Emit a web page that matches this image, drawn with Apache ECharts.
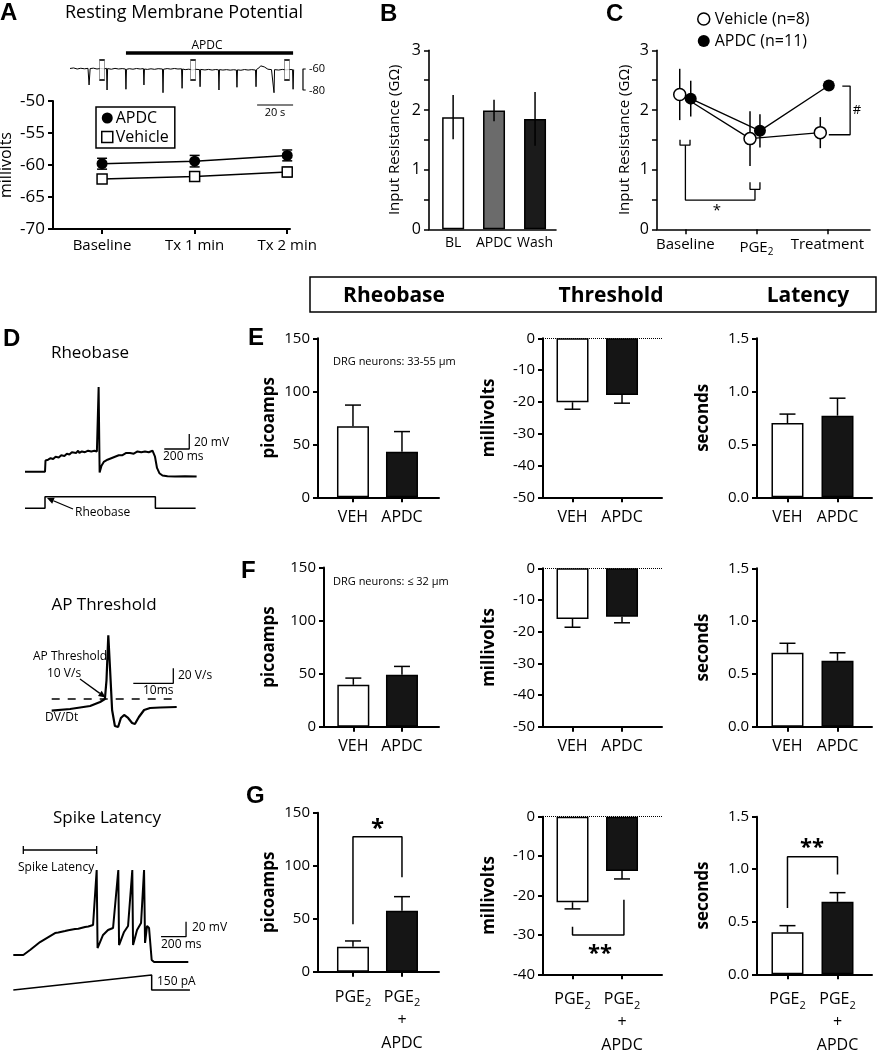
<!DOCTYPE html>
<html><head><meta charset="utf-8">
<script src="https://cdn.jsdelivr.net/npm/echarts@6/dist/echarts.min.js"></script>
<style>html,body{margin:0;padding:0;background:#fff}#c{width:882px;height:1050px}</style>
</head><body><div id="c"></div>
<script>
// ================= DATA =================
// Panel A – resting membrane potential (mV)
const rmpCats = ['Baseline', 'Tx 1 min', 'Tx 2 min'];
const rmpAPDC = [-59.8, -59.4, -58.5];
const rmpAPDCErr = [0.85, 0.9, 0.85];
const rmpVeh = [-62.2, -61.8, -61.1];
const rmpVehErr = [0.6, 0.65, 0.75];
// Panel A – example recording [time s, mV]
const traceA = [[0,-59.5],[2,-59],[4,-60],[6,-59.3],[8,-59.8],[10,-59.4],[10.6,-75.2],[11.2,-59.6],[13,-59.2],[15,-60],[17,-59.5],[19,-59.9],[20.3,-59.4],[20.6,-80],[20.9,-59.6],[23,-60.2],[25,-59.4],[27,-60],[29,-59.6],[30.8,-60],[31.1,-79.3],[31.4,-60.3],[33,-59.7],[35,-60.2],[37,-59.5],[39,-60],[40.8,-59.6],[41.1,-75.2],[41.4,-60],[43,-60.4],[45,-59.8],[47,-60.3],[49,-59.7],[51.4,-60],[51.7,-82.6],[52,-60.2],[54,-59.6],[56,-60.1],[58,-59.5],[60,-60],[62,-59.8],[62.3,-78.4],[62.6,-60],[64,-60.6],[66,-60.2],[68,-60.8],[70,-60.3],[72,-60.6],[72.3,-76.9],[72.6,-60.4],[75,-60.9],[77,-60.4],[79,-61],[81,-60.5],[82.5,-60.8],[82.8,-80],[83.1,-60.6],[85,-61],[87,-60.6],[89,-61.1],[91,-60.7],[92.5,-61],[92.8,-77.4],[93.1,-60.8],[95,-61.2],[97,-60.5],[99,-61],[101,-60.6],[103.1,-61],[103.4,-76.9],[103.7,-60.4],[105,-59],[106,-57],[107,-56.5],[108,-58],[110,-60.2],[112,-60.6],[113.1,-60.4],[113.4,-82.6],[113.7,-60.6],[116,-61],[118,-60.4],[120,-60.8],[122,-60.5],[123.7,-60.6],[124,-79.3],[124.3,-60.5]];
const traceASampleTimes = [17.8, 68.4, 120.6];
const traceAPDCOn = [31.1, 124];

// Panel B – input resistance (GOhm)
const rinCats = ['BL', 'APDC', 'Wash'];
const rinVals = [1.88, 1.99, 1.85];
const rinErr = [0.37, 0.18, 0.45];

// Panel C – input resistance (GOhm)
const cCats = ['Baseline', 'PGE2', 'Treatment'];
const cVeh = [2.26, 1.52, 1.62];
const cVehErr = [0.43, 0.46, 0.26];
const cAPDC = [2.19, 1.65, 2.41];
const cAPDCErr = [0.30, 0.28, 0.04];

// Panel D – example traces
const rheoTrace = [[0,-60],[160,-60],[164,-45],[185,-44],[205,-42],[225,-43],[245,-40],[270,-41],[290,-38],[315,-39],[335,-36],[355,-37],[375,-34],[390,-36],[410,-35],[425,-32],[435,-35],[455,-33],[480,-34],[505,-32],[530,-33],[555,-32],[575,-33],[585,-32],[589,53],[597,-61],[612,-52],[630,-47],[660,-44],[690,-42],[720,-40],[750,-38],[780,-38],[810,-35],[840,-35],[870,-36],[900,-33],[930,-34],[960,-33],[990,-34],[1020,-32],[1032,-34],[1040,-40],[1056,-55],[1075,-62],[1100,-65],[1140,-66],[1200,-66.5],[1280,-66],[1373,-66.5]];
const rheoStim = [[0,0],[160,0],[160,1],[1043,1],[1043,0],[1365,0]];
const apTrace = [[0,-5.6],[4.6,-3.3],[9.6,0.7],[12.1,6],[13.3,10],[13.7,35],[14.15,95],[14.6,48.7],[15.1,-4.7],[15.8,-26],[16.6,-27.3],[17.3,-15.3],[18.1,-11.3],[19.1,-15.3],[20.1,-22],[20.8,-23.3],[21.8,-14],[23.1,-4.7],[24.6,-2],[27.1,-1.3],[31.25,-0.7]];
const apThreshold = 10;
const latTrace = [[0,-60],[80,-60],[134,-53.3],[214,-42.7],[294,-34.7],[334,-30.7],[360,-30],[414,-28],[440,-27],[494,-25.3],[520,-25],[574,-22.7],[600,-22],[638,-20],[667,53.3],[674,-50.7],[718,-33.3],[758,-26.7],[798,-24],[840,53.3],[846,-46.7],[886,-29.3],[918,-21.3],[952,53.3],[958,-46.7],[990,-26.7],[1022,-17.3],[1046,53.3],[1054,-44],[1070,-21.3],[1086,-24],[1107,-66.7],[1126,-69.3],[1400,-69.3]];
const latStim = [[0,0],[1107,150],[1107,0],[1413,0]];
const spikeLatencyMs = [80, 667];

// Panels E, F, G – bar charts
const groupCats = ['VEH', 'APDC'];
const pgeCats = ['PGE2', 'PGE2 + APDC'];
const eRheo = [67, 43],      eRheoErr = [20, 19];
const eThr = [-20.1, -17.8], eThrErr = [2.2, 2.6];
const eLat = [0.70, 0.77],   eLatErr = [0.085, 0.165];
const fRheo = [39.5, 49],    fRheoErr = [6.3, 7.8];
const fThr = [-16.0, -15.3], fThrErr = [2.6, 1.9];
const fLat = [0.70, 0.625],  fLatErr = [0.09, 0.075];
const gRheo = [23.6, 57.5],  gRheoErr = [5.4, 13.3];
const gThr = [-21.7, -13.8], gThrErr = [1.7, 2.0];
const gLat = [0.40, 0.69],   gLatErr = [0.063, 0.087];

// ================= BUILD =================
const FONT = "'Open Sans', sans-serif";
const grids = [], xAxes = [], yAxes = [], series = [], graphics = [];
function addGrid(g, xa, ya) {
  grids.push(Object.assign({outerBoundsMode: 'none'}, g));
  const i = grids.length - 1;
  xAxes.push(Object.assign({gridIndex: i}, xa));
  yAxes.push(Object.assign({gridIndex: i}, ya));
  return i;
}
const hidden = (min, max) => ({type: 'value', show: false, min, max, splitLine: {show: false}});
function lineS(gi, data, lw, extra) {
  return Object.assign({type: 'line', xAxisIndex: gi, yAxisIndex: gi, data, symbol: 'none', silent: true,
    clip: false, lineStyle: {color: '#000', width: lw}, animation: false}, extra || {});
}
function errS(gi, pts, capW, lw) {
  return {type: 'custom', xAxisIndex: gi, yAxisIndex: gi, silent: true, clip: false, z: 5,
    encode: {x: 0, y: 1}, data: pts,
    renderItem(params, api) {
      const x = api.value(0), y = api.value(1), up = api.value(2), dn = api.value(3);
      const p0 = api.coord([x, y + up]), p1 = api.coord([x, y - dn]);
      const st = {stroke: '#000', lineWidth: lw};
      const ch = [{type: 'line', shape: {x1: p0[0], y1: p0[1], x2: p1[0], y2: p1[1]}, style: st}];
      if (capW) {
        if (up > 0) ch.push({type: 'line', shape: {x1: p0[0] - capW / 2, y1: p0[1], x2: p0[0] + capW / 2, y2: p0[1]}, style: st});
        if (dn > 0) ch.push({type: 'line', shape: {x1: p1[0] - capW / 2, y1: p1[1], x2: p1[0] + capW / 2, y2: p1[1]}, style: st});
      }
      return {type: 'group', children: ch};
    }};
}
function txt(x, y, s, o) {
  o = o || {};
  graphics.push({type: 'text', x, y, silent: true, style: {text: s, fill: '#000',
    fontFamily: o.ff || FONT, fontSize: o.fs || 12, fontWeight: o.fw || 'normal',
    align: o.al || 'left', verticalAlign: o.va || 'middle'}});
}
function arrow(x1, y1, x2, y2) {
  const a = Math.atan2(y2 - y1, x2 - x1), L = 7, W = 3.2;
  const bx = x2 - L * Math.cos(a), by = y2 - L * Math.sin(a);
  const px = -Math.sin(a) * W, py = Math.cos(a) * W;
  graphics.push({type: 'line', silent: true, shape: {x1, y1, x2: bx, y2: by}, style: {stroke: '#000', lineWidth: 1.3}});
  graphics.push({type: 'polygon', silent: true, shape: {points: [[x2, y2], [bx + px, by + py], [bx - px, by - py]]}, style: {fill: '#000'}});
}
const axLine = (w) => ({show: true, onZero: false, lineStyle: {color: '#000', width: w}});
const lbl = (fs, extra) => Object.assign({color: '#000', fontSize: fs, fontFamily: FONT}, extra || {});
const pgeRich = {
  a: {fontSize: 16, fontFamily: FONT, color: '#000', lineHeight: 23},
  s: {fontSize: 11, fontFamily: FONT, color: '#000', lineHeight: 14, verticalAlign: 'bottom'}
};
function fmtCat(name) {
  if (name === 'PGE2') return '{a|PGE}{s|2}';
  if (name === 'PGE2 + APDC') return '{a|PGE}{s|2}\n{a|+}\n{a|APDC}';
  return name;
}

// ---- Panel A trace ----
{
  const gi = addGrid({left: 70, top: 48, width: 240, height: 63}, hidden(0, 133.4), hidden(-100, -40));
  series.push(lineS(gi, traceA, 1));
  series.push(lineS(gi, traceAPDCOn.map(t => [t, -44.8]), 3.5));
  series.push(lineS(gi, [[104, -94.3], [124, -94.3]], 1.2));
  series.push(lineS(gi, [[131, -60], [129.5, -60], [129.5, -80], [131, -80]], 1.2));
  series.push({type: 'scatter', xAxisIndex: gi, yAxisIndex: gi, silent: true, symbol: 'rect', symbolSize: [5, 20],
    itemStyle: {color: '#fff', borderColor: '#000', borderWidth: 1}, data: traceASampleTimes.map(t => [t, -61]), z: 4});
  txt(207, 46, 'APDC', {fs: 12, al: 'center'});
  txt(275, 113, '20 s', {fs: 11, al: 'center'});
  txt(309, 69, '-60', {fs: 11});
  txt(309, 91, '-80', {fs: 11});
}
// ---- Panel A plot ----
{
  const pos = [0, 1, 2];
  const gi = addGrid({left: 53, top: 101, width: 237, height: 128},
    {type: 'value', min: -0.53, max: 2.03, axisLine: axLine(2), splitLine: {show: false},
     axisTick: {show: true, customValues: pos, length: 5, lineStyle: {width: 2, color: '#000'}},
     axisLabel: lbl(15, {customValues: pos, margin: 9, formatter: v => rmpCats[Math.round(v)]})},
    {type: 'value', min: -70, max: -50, interval: 5, axisLine: axLine(2), splitLine: {show: false},
     axisTick: {show: true, length: 5, lineStyle: {width: 2, color: '#000'}},
     axisLabel: lbl(17, {margin: 8}),
     name: 'millivolts', nameLocation: 'middle', nameGap: 39, nameTextStyle: lbl(16)});
  series.push({type: 'line', name: 'APDC', xAxisIndex: gi, yAxisIndex: gi, data: rmpAPDC.map((v, i) => [pos[i], v]),
    symbol: 'circle', symbolSize: 11, lineStyle: {color: '#000', width: 1.5}, itemStyle: {color: '#000'}, z: 6});
  series.push({type: 'line', name: 'Vehicle', xAxisIndex: gi, yAxisIndex: gi, data: rmpVeh.map((v, i) => [pos[i], v]),
    symbol: 'rect', symbolSize: 10, lineStyle: {color: '#000', width: 1.5}, itemStyle: {color: '#fff', borderColor: '#000', borderWidth: 1.5}, z: 6});
  series.push(errS(gi, rmpAPDC.map((v, i) => [pos[i], v, rmpAPDCErr[i], rmpAPDCErr[i]]), 10, 1.5));
  series.push(errS(gi, rmpVeh.map((v, i) => [pos[i], v, rmpVehErr[i], rmpVehErr[i]]), 10, 1.5));
}
// ---- Panel B ----
{
  const pos = [0.19, 0.512, 0.835];
  const cols = ['#fff', '#6b6b6b', '#1b1b1b'];
  const gi = addGrid({left: 429, top: 50.3, width: 127, height: 179},
    {type: 'value', min: 0, max: 1, axisLine: axLine(1.6), splitLine: {show: false},
     axisTick: {show: false}, axisLabel: lbl(14, {customValues: pos, margin: 7, formatter: v => rinCats[pos.indexOf(v)]})},
    {type: 'value', min: 0, max: 3, interval: 0.5, axisLine: axLine(1.6), splitLine: {show: false},
     axisTick: {show: true, length: 5, lineStyle: {width: 1.5, color: '#000'}},
     axisLabel: lbl(16, {margin: 8, formatter: v => (Number.isInteger(v) ? String(v) : '')}),
     name: 'Input Resistance (GΩ)', nameLocation: 'middle', nameGap: 27, nameTextStyle: lbl(15)});
  series.push({type: 'bar', xAxisIndex: gi, yAxisIndex: gi, barWidth: 22, silent: true,
    itemStyle: {borderColor: '#000', borderWidth: 1.5},
    data: rinVals.map((v, i) => ({value: [pos[i], v], itemStyle: {color: cols[i]}}))});
  series.push(errS(gi, rinVals.map((v, i) => [pos[i], v, rinErr[i], rinErr[i]]), 0, 1.5));
}
// ---- Panel C ----
{
  const pos = [0, 1, 2];
  const vehX = [-0.08, 0.91, 1.9], apdcX = [0.075, 1.05, 2.02];
  const gi = addGrid({left: 657, top: 50.3, width: 213, height: 179},
    {type: 'value', min: -0.4, max: 2.6, axisLine: axLine(1.6), splitLine: {show: false},
     axisTick: {show: true, customValues: pos, length: 5, lineStyle: {width: 1.5, color: '#000'}},
     axisLabel: lbl(15, {customValues: pos, margin: 8, formatter: v => fmtCat(cCats[Math.round(v)]), rich: {
       a: {fontSize: 15, fontFamily: FONT, color: '#000', lineHeight: 20},
       s: {fontSize: 10, fontFamily: FONT, color: '#000', lineHeight: 12, verticalAlign: 'bottom'}}})},
    {type: 'value', min: 0, max: 3, interval: 0.5, axisLine: axLine(1.6), splitLine: {show: false},
     axisTick: {show: true, length: 5, lineStyle: {width: 1.5, color: '#000'}},
     axisLabel: lbl(16, {margin: 8, formatter: v => (Number.isInteger(v) ? String(v) : '')}),
     name: 'Input Resistance (GΩ)', nameLocation: 'middle', nameGap: 25, nameTextStyle: lbl(15)});
  series.push(errS(gi, cVeh.map((v, i) => [vehX[i], v, cVehErr[i], cVehErr[i]]), 0, 1.5));
  series.push(errS(gi, cAPDC.map((v, i) => [apdcX[i], v, cAPDCErr[i], cAPDCErr[i]]), 0, 1.5));
  series.push({type: 'line', name: 'Vehicle (n=8)', xAxisIndex: gi, yAxisIndex: gi, data: cVeh.map((v, i) => [vehX[i], v]),
    symbol: 'circle', symbolSize: 12, lineStyle: {color: '#000', width: 1.3}, itemStyle: {color: '#fff', borderColor: '#000', borderWidth: 1.5}, z: 6});
  series.push({type: 'line', name: 'APDC (n=11)', xAxisIndex: gi, yAxisIndex: gi, data: cAPDC.map((v, i) => [apdcX[i], v]),
    symbol: 'circle', symbolSize: 12, lineStyle: {color: '#000', width: 1.3}, itemStyle: {color: '#000'}, z: 7});
  // significance brackets
  series.push(lineS(gi, [[-0.076, 1.50], [-0.076, 1.41], [0.065, 1.41], [0.065, 1.50]], 1.3));
  series.push(lineS(gi, [[0, 1.41], [0, 0.49], [0.98, 0.49], [0.98, 0.67]], 1.3));
  series.push(lineS(gi, [[0.91, 0.79], [0.91, 0.67], [1.05, 0.67], [1.05, 0.79]], 1.3));
  series.push(lineS(gi, [[2.21, 2.40], [2.32, 2.40], [2.32, 1.585], [2.02, 1.585]], 1.3));
  txt(717, 211, '*', {fs: 15, al: 'center'});
  txt(857, 110, '#', {fs: 13, al: 'center'});
}

// ---- Bar charts E/F/G ----
function barChart(c) {
  const names = c.cats;
  const gi = addGrid({left: c.left, top: c.top, width: c.width, height: c.height},
    {type: 'value', min: 0, max: 1, axisLine: axLine(2), splitLine: {show: false},
     axisTick: {show: true, customValues: c.pos, length: 5, lineStyle: {width: 2, color: '#000'}},
     axisLabel: lbl(16, {customValues: c.pos, margin: c.xm || 12, formatter: v => fmtCat(names[c.pos.indexOf(v)]), rich: pgeRich})},
    {type: 'value', min: c.ymin, max: c.ymax, interval: c.yint, axisLine: axLine(2), splitLine: {show: false},
     axisTick: {show: true, length: 5, lineStyle: {width: 2, color: '#000'}},
     axisLabel: lbl(15, {margin: 8, formatter: c.fmt || (v => String(v))}),
     name: c.name, nameLocation: 'middle', nameGap: c.gap, nameTextStyle: lbl(17, {fontWeight: 'bold'})});
  const cols = ['#fff', '#151515'];
  const bar = {type: 'bar', xAxisIndex: gi, yAxisIndex: gi, barWidth: 32, silent: true,
    itemStyle: {borderColor: '#000', borderWidth: 1.5},
    data: c.vals.map((v, i) => ({value: [c.pos[i], v], itemStyle: {color: cols[i]}}))};
  if (c.ymax === 0) {
    bar.markLine = {silent: true, symbol: 'none', label: {show: false},
      lineStyle: {color: '#000', type: 'dotted', width: 1}, data: [{yAxis: 0}]};
  }
  series.push(bar);
  series.push(errS(gi, c.vals.map((v, i) => v >= 0 ? [c.pos[i], v, c.errs[i], 0] : [c.pos[i], v, 0, c.errs[i]]), 16, 1.5));
  if (c.bracket) series.push(lineS(gi, c.bracket, 1.5));
  return gi;
}
const colRheo = {left: 318, width: 121, pos: [0.289, 0.694], ymin: 0, ymax: 150, yint: 50, name: 'picoamps', gap: 40};
const colThr = {left: 543, width: 119, pos: [0.248, 0.664], ymin: -50, ymax: 0, yint: 10, name: 'millivolts', gap: 45};
const colLat = {left: 757, width: 115, pos: [0.265, 0.70], ymin: 0, ymax: 1.5, yint: 0.5, name: 'seconds', gap: 45, fmt: v => v.toFixed(1)};
function mk(col, extra) { return Object.assign({}, col, extra); }
// E
barChart(mk(colRheo, {top: 338.3, height: 159, cats: groupCats, vals: eRheo, errs: eRheoErr}));
barChart(mk(colThr, {top: 338.3, height: 159, cats: groupCats, vals: eThr, errs: eThrErr}));
barChart(mk(colLat, {top: 338.3, height: 159, cats: groupCats, vals: eLat, errs: eLatErr}));
// F
barChart(mk(colRheo, {left: 324, width: 115, pos: [0.255, 0.678], top: 567.5, height: 159.2, cats: groupCats, vals: fRheo, errs: fRheoErr, gap: 46}));
barChart(mk(colThr, {top: 568.3, height: 158.4, cats: groupCats, vals: fThr, errs: fThrErr}));
barChart(mk(colLat, {top: 568.3, height: 158.4, cats: groupCats, vals: fLat, errs: fLatErr}));
// G
barChart(mk(colRheo, {top: 812.7, height: 159, cats: pgeCats, vals: gRheo, errs: gRheoErr, xm: 14,
  bracket: [[0.289, 44.7], [0.289, 127.4], [0.694, 127.4], [0.694, 89.1]]}));
barChart(mk(colThr, {top: 816.7, height: 157.6, ymin: -40, cats: pgeCats, vals: gThr, errs: gThrErr, xm: 14,
  bracket: [[0.248, -27.9], [0.248, -30.0], [0.68, -30.0], [0.68, -21.1]]}));
barChart(mk(colLat, {top: 816.7, height: 157.6, cats: pgeCats, vals: gLat, errs: gLatErr, xm: 14,
  bracket: [[0.265, 0.63], [0.265, 1.12], [0.70, 1.12], [0.70, 0.95]]}));

// ---- Panel D traces ----
{
  // Rheobase
  let gi = addGrid({left: 25, top: 381.7, width: 180, height: 120}, hidden(0, 1440), hidden(-100, 60));
  series.push(lineS(gi, rheoTrace, 2));
  series.push(lineS(gi, [[1114, -29.7], [1314, -29.7], [1314, -9.7]], 1.3));
  gi = addGrid({left: 25, top: 496.7, width: 180, height: 11.6}, hidden(0, 1440), hidden(0, 1));
  series.push(lineS(gi, rheoStim, 1.5));
  // AP threshold
  gi = addGrid({left: 51.7, top: 631.5, width: 125, height: 105}, hidden(0, 31.25), hidden(-40, 100));
  series.push(lineS(gi, [[0, apThreshold], [31.25, apThreshold]], 1.6, {lineStyle: {color: '#000', width: 1.6, type: [8, 8]}}));
  series.push(lineS(gi, apTrace, 2.2));
  series.push(lineS(gi, [[20.4, 30.9], [30.4, 30.9], [30.4, 50.9]], 1.3));
  // Spike latency
  gi = addGrid({left: 13.3, top: 835, width: 180, height: 142.5}, hidden(0, 1440), hidden(-90, 100));
  series.push(lineS(gi, latTrace, 2));
  series.push(lineS(gi, [[1182, -35.6], [1382, -35.6], [1382, -15.6]], 1.3));
  const [s0, s1] = spikeLatencyMs;
  series.push(lineS(gi, [[s0, 85.3], [s0, 74.7], [s0, 80], [s1, 80], [s1, 85.3], [s1, 74.7]], 1.3));
  gi = addGrid({left: 13.3, top: 975, width: 180, height: 15}, hidden(0, 1440), hidden(0, 150));
  series.push(lineS(gi, latStim, 1.5));
}

// ---- Texts ----
const LET = {ff: "'Liberation Sans', Arial, sans-serif", fw: 'bold', fs: 24, va: 'top'};
txt(0, 1, 'A', LET);
txt(380, 2, 'B', LET);
txt(606, 2, 'C', LET);
txt(3, 327, 'D', LET);
txt(248, 326, 'E', LET);
txt(241, 559, 'F', LET);
txt(246, 784, 'G', LET);
txt(184, 13, 'Resting Membrane Potential', {fs: 18, al: 'center'});
graphics.push({type: 'rect', silent: true, shape: {x: 310, y: 277, width: 566, height: 35},
  style: {fill: 'none', stroke: '#000', lineWidth: 1.5}});
txt(394, 296, 'Rheobase', {fs: 21, fw: 'bold', al: 'center'});
txt(611, 296, 'Threshold', {fs: 21, fw: 'bold', al: 'center'});
txt(808, 296, 'Latency', {fs: 21, fw: 'bold', al: 'center'});
txt(333, 362, 'DRG neurons: 33-55 μm', {fs: 11});
txt(333, 582, 'DRG neurons: ≤ 32 μm', {fs: 11});
txt(377.5, 829, '*', {fs: 24, fw: 'bold', al: 'center'});
txt(600, 954, '**', {fs: 22, fw: 'bold', al: 'center'});
txt(812, 848, '**', {fs: 22, fw: 'bold', al: 'center'});
// D texts
txt(90, 353, 'Rheobase', {fs: 17, al: 'center'});
txt(194, 443, '20 mV', {fs: 12});
txt(163, 457, '200 ms', {fs: 12});
txt(75, 513, 'Rheobase', {fs: 12});
arrow(73, 509, 47, 498);
txt(104, 605, 'AP Threshold', {fs: 17, al: 'center'});
txt(33, 657, 'AP Threshold', {fs: 12});
txt(47, 674, '10 V/s', {fs: 12});
arrow(80, 679, 105.5, 697.5);
txt(178, 676, '20 V/s', {fs: 12});
txt(143, 691, '10ms', {fs: 12});
txt(45, 718, 'DV/Dt', {fs: 12});
txt(107, 818, 'Spike Latency', {fs: 17, al: 'center'});
txt(18, 868, 'Spike Latency', {fs: 12});
txt(192, 928, '20 mV', {fs: 12});
txt(161, 945, '200 ms', {fs: 12});
txt(157, 982, '150 pA', {fs: 12});

const chart = echarts.init(document.getElementById('c'), null, {renderer: 'canvas', width: 882, height: 1050});
chart.setOption({
  animation: false,
  backgroundColor: '#fff',
  textStyle: {fontFamily: FONT},
  grid: grids, xAxis: xAxes, yAxis: yAxes, series,
  legend: [
    {left: 96, top: 107, orient: 'vertical', selectedMode: false, borderColor: '#000', borderWidth: 1.5,
     padding: [3, 6, 3, 5], itemGap: 3, itemWidth: 11, itemHeight: 11,
     textStyle: {fontSize: 16, fontFamily: FONT, color: '#000', padding: [0, 0, 0, -2]},
     data: [{name: 'APDC', icon: 'circle', itemStyle: {color: '#000', borderWidth: 0}},
            {name: 'Vehicle', icon: 'rect', itemStyle: {color: '#fff', borderColor: '#000', borderWidth: 1.5}}]},
    {left: 692, top: 6, orient: 'vertical', selectedMode: false, itemGap: 6, itemWidth: 12, itemHeight: 12,
     textStyle: {fontSize: 16, fontFamily: FONT, color: '#000'},
     data: [{name: 'Vehicle (n=8)', icon: 'circle', itemStyle: {color: '#fff', borderColor: '#000', borderWidth: 1.5}},
            {name: 'APDC (n=11)', icon: 'circle', itemStyle: {color: '#000', borderWidth: 0}}]}
  ],
  graphic: graphics
});
</script>
</body></html>
